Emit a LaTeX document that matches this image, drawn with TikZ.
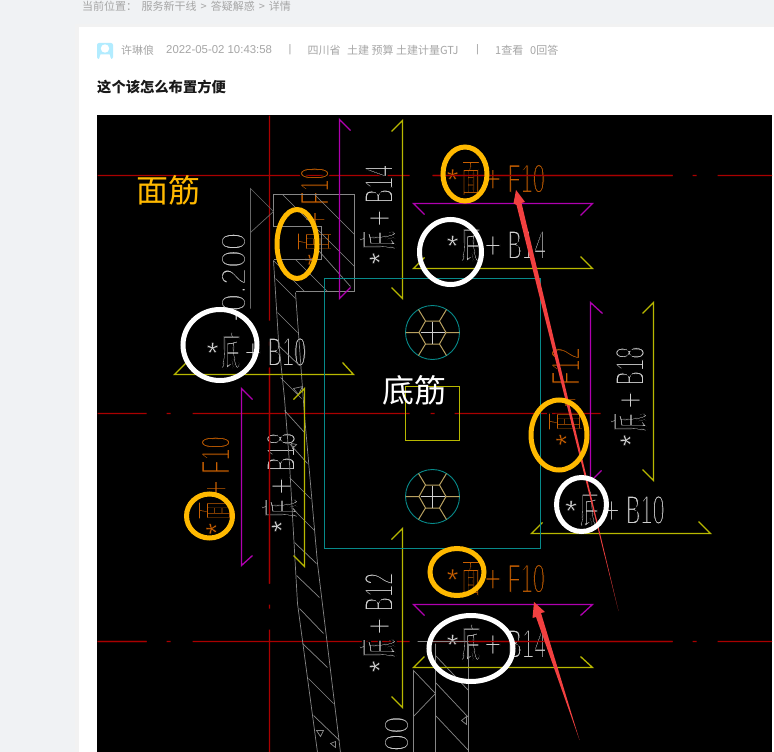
\documentclass[tikz,border=0pt]{standalone}
\usepackage{graphicx}
\usepackage{fontspec}
\setmainfont{Liberation Sans}
\newfontfamily\cjk{Noto Sans CJK SC}
\definecolor{pagebg}{HTML}{F0F2F4}
\definecolor{meta}{HTML}{A6A6A6}
\definecolor{cadred}{RGB}{170,0,0}
\definecolor{cadmag}{HTML}{B000B0}
\definecolor{cadyel}{HTML}{B8B800}
\definecolor{cadcyan}{HTML}{078A8A}
\definecolor{cadgrey}{HTML}{868686}
\definecolor{cadtext}{HTML}{CFCFCF}
\definecolor{cadorange}{HTML}{C85F00}
\definecolor{cadtan}{HTML}{B8A060}
\definecolor{markorange}{HTML}{FFB900}
\definecolor{markred}{HTML}{F24040}
% eroded (thin) CAD lettering: fill plus a black stroke on the black sheet
\newcommand{\thinon}{\special{pdf:code 2 Tr 0 0 0 RG 1.7 w}}
\newcommand{\thinoff}{\special{pdf:code 0 Tr}}
\newcommand{\cadlabel}[2]{\fontsize{41}{41}\selectfont
  \raisebox{3pt}{\fontsize{30}{30}\selectfont\special{pdf:code 2 Tr 0 0 0 RG .35 w}*\thinoff}\hspace{3pt}%
  \scalebox{.46}[1]{\thinon{\cjk #1}\thinoff}\hspace{4pt}%
  \scalebox{.72}[1]{\thinon +\thinoff}\hspace{6pt}%
  \scalebox{.53}[1]{\thinon #2\thinoff}}
\newcommand{\levellabel}[1]{\scalebox{.9}[1]{\fontsize{35}{35}\selectfont\thinon #1\thinoff}}
\tikzset{
  x=1pt,y=-1pt,
  cadg/.style={text=cadtext,inner sep=0pt},
  cado/.style={text=cadorange,inner sep=0pt},
  metatext/.style={text=meta,anchor=west,inner sep=0pt,font=\fontsize{11}{11}\selectfont},
  magline/.style={draw=cadmag,line width=1.3pt},
  yelline/.style={draw=cadyel,line width=1.3pt},
  cyanline/.style={draw=cadcyan,line width=1.3pt},
  wall/.style={draw=cadgrey,line width=.7pt},
  ring/.style={draw,line width=5pt,fill=none},
  bigword/.style={inner sep=0pt,font=\cjk\fontsize{32}{32}\selectfont},
  redarrow/.style={fill=markred,draw=none}
}
\newcommand{\boltmark}[2]{%
  \begin{scope}[shift={(#1,#2)}]
    \draw[cadcyan,line width=.9pt] (0,0) circle[radius=27];
    \draw[cadtan,line width=1pt] (-13.5,0)--(-7,-11.5)--(7,-11.5)--(13.5,0)--(7,11.5)--(-7,11.5)--cycle;
    \draw[cadtan,line width=1pt] (-13.5,0)--(-27,0) (13.5,0)--(27,0) (-7,-11.5)--(-14,-23) (7,-11.5)--(14,-23) (-7,11.5)--(-14,23) (7,11.5)--(14,23);
    \draw[cadtext,line width=.8pt] (-12,0)--(12,0) (0,-11)--(0,11);
  \end{scope}}
\begin{document}
\begin{tikzpicture}
\useasboundingbox (0,0) rectangle (774,752);
\fill[pagebg] (0,0) rectangle (774,752);
\fill[black!5] (75,24) rectangle (774,752);
\fill[white] (79,27) rectangle (774,752);
% header
\node[metatext] (crumb) at (82,6) {\cjk 当前位置：};
\node[metatext] (crumbb) at (141.5,6) {\cjk 服务新干线\hspace{4pt}>\hspace{4pt}答疑解惑\hspace{4pt}>\hspace{4pt}详情};
\fill[blue!25!cyan!30!white,rounded corners=2pt] (97,43) rectangle (113,59);
\fill[white] (105,48.5) circle[radius=4.2];
\fill[white] (99,59) -- (100.5,54.5) -- (109.5,54.5) -- (111,59) -- cycle;
\node[metatext] (user) at (121,50) {\cjk 许琳俍};
\node[metatext,font=\fontsize{11.4}{11.4}\selectfont] (time) at (166,50) {2022-05-02 10:43:58};
\node[metatext] (sepa) at (288.5,50) {|};
\node[metatext] (prov) at (307.5,50) {\cjk 四川省};
\node[metatext] (tags) at (347,50) {\cjk 土建 预算 土建计量GTJ};
\node[metatext] (sepb) at (476,50) {|};
\node[metatext] (views) at (495,50) {\cjk 1查看};
\node[metatext] (answers) at (530,50) {\cjk 0回答};
\node[anchor=west,inner sep=0pt,font=\cjk\bfseries\fontsize{14.3}{14.3}\selectfont,text=black!90] (title) at (97,87) {这个该怎么布置方便};
% CAD sheet
\fill[black] (97,115) rectangle (772,752);
\begin{scope}
\clip (97,115) rectangle (772,752);
\begin{scope}[shift={(.5,.5)}]
% axes as filled bars, since a hairline stroke loses its hue
\fill[cadred] (97,174.4) rectangle (409,175.6) (432,174.4) rectangle (672,175.6) (692,174.4) rectangle (696,175.6) (717,174.4) rectangle (772,175.6);
\fill[cadred] (97,412.4) rectangle (146,413.6) (166,412.4) rectangle (170,413.6) (192,412.4) rectangle (409,413.6) (430,412.4) rectangle (434,413.6) (454,412.4) rectangle (600,413.6);
\fill[cadred] (97,640.4) rectangle (146,641.6) (166,640.4) rectangle (170,641.6) (192,640.4) rectangle (409,641.6) (432,640.4) rectangle (672,641.6) (692,640.4) rectangle (696,641.6) (717,640.4) rectangle (772,641.6);
\fill[cadred] (268.4,115) rectangle (269.6,320) (268.4,341) rectangle (269.6,345) (268.4,367) rectangle (269.6,583) (268.4,604) rectangle (269.6,608) (268.4,629) rectangle (269.6,752);
% lettering
\node[cado,anchor=west] (tfa) at (446,178) {\cadlabel{面}{F10}};
\node[cadg,anchor=west] (tba) at (446,243) {\cadlabel{底}{B14}};
\node[cadg,anchor=west] (tbb) at (206,350) {\cadlabel{底}{B10}};
\node[cado,rotate=90] (tfb) at (314,216) {\cadlabel{面}{F10}};
\node[cadg,rotate=90] (tbc) at (377,214) {\cadlabel{底}{B14}};
\node[cado,rotate=90] (tfc) at (565,396) {\cadlabel{面}{F12}};
\node[cadg,rotate=90] (tbd) at (628,396) {\cadlabel{底}{B18}};
\node[cadg,anchor=west] (tbe) at (564.5,508) {\cadlabel{底}{B10}};
\node[cado,anchor=west] (tfd) at (446,578) {\cadlabel{面}{F10}};
\node[cadg,anchor=west] (tbf) at (446,642) {\cadlabel{底}{B14}};
\node[cado,rotate=90] (tfe) at (215,485) {\cadlabel{面}{F10}};
\node[cadg,rotate=90] (tbg) at (279,482) {\cadlabel{底}{B18}};
\node[cadg,rotate=90] (tbh) at (377,622) {\cadlabel{底}{B12}};
\node[cadg,rotate=90,anchor=east] (lvla) at (233,232) {\levellabel{-0.200}};
\node[cadg,rotate=90,anchor=west] (lvlb) at (396,751) {\levellabel{00}};
% redraw axis strips that lettering's black edge would cut
\fill[cadred] (432,174.4) rectangle (672,175.6) (97,640.4) rectangle (146,641.6) (432,640.4) rectangle (672,641.6) (268.4,367) rectangle (269.6,583);
% wall
\draw[wall] (273,226)--(273,194)--(354,194)--(354,291)--(295,291);
\draw[wall] (273,226)--(321,226)--(321,259)--(273,259);
\draw[wall] (282,194)--(354,266) (314,194)--(354,234) (273,260)--(304,291) (295,259)--(327,291) (318,250)--(350,286);
\draw[wall] (273,260) -- (278,340) -- (284,398) -- (289,463) -- (297,603) -- (317,752);
\draw[wall] (295,292) -- (304,415) -- (317,563) -- (340,752);
\draw[wall] (275,278)--(295,298) (277,312)--(297,332) (278,345)--(299,365) (280,377)--(301,398) (284,410)--(304,432) (289,443)--(307,463) (289,477)--(310,498) (292,508)--(314,530) (294,542)--(316,563) (296,575)--(319,597) (299,608)--(323,633) (302,643)--(327,667) (308,678)--(333,703) (313,715)--(339,740);
\draw[wall] (293,388)--(302,386)--(298,394)--cycle (316,730)--(323,730)--(320,736)--cycle (330,743)--(335,741)--(335,747)--cycle (291,443)--(296,444)--(292,448)--cycle;
\draw[black!60,line width=.7pt] (250,308)--(250,188)--(273,211)--(250,232);
\draw[wall] (413,752)--(413,670)--(435,693)--(413,716) (435,752)--(435,643) (468,752)--(468,643) (417,641)--(468,641);
\draw[wall] (435,655)--(468,690) (435,682)--(468,717) (435,715)--(468,750) (461,720)--(466,716)--(466,724)--cycle;
% magenta and yellow brackets
\draw[magline] (350,130)--(339,119)--(339,298)--(350,287);
\draw[yelline] (391,131)--(402,120)--(402,298)--(391,287);
\draw[magline] (424,214)--(413,203)--(592,203)--(580,215);
\draw[yelline] (424,257)--(413,268)--(592,268)--(580,256);
\draw[magline] (602,313)--(590,302)--(590,481)--(601,470);
\draw[yelline] (642,313)--(653,302)--(653,480)--(642,469);
\draw[yelline] (542,522)--(531,533)--(710,533)--(698,521);
\draw[magline] (424,615)--(413,604)--(592,604)--(580,615);
\draw[yelline] (424,656)--(413,667)--(592,667)--(580,656);
\draw[magline] (252,399)--(241,388)--(241,565)--(252,555);
\draw[yelline] (293,399)--(304,388)--(304,566)--(293,555);
\draw[yelline] (186,362)--(174,374)--(353,374)--(342,362);
\draw[yelline] (391,539)--(402,528)--(402,707)--(391,696);
% column
\draw[cyanline] (324,278) rectangle (540,548);
\draw[yelline] (405,386) rectangle (459,440);
\boltmark{432}{332}
\boltmark{432}{496}
\end{scope}
% red arrows
\fill[redarrow] (516,190)--(525,202)--(521.5,203)--(618.5,611)--(516.5,205)--(513.5,203.5)--cycle;
\fill[redarrow] (534,602)--(545,612)--(541,613)--(579.5,740)--(536,617)--(532.5,618)--cycle;
% rings
\draw[ring,markorange] (465,174) ellipse[x radius=22,y radius=27];
\draw[ring,markorange] (297,244) ellipse[x radius=20,y radius=34.5];
\draw[ring,markorange] (559,435) ellipse[x radius=28,y radius=35];
\draw[ring,markorange] (209.5,516) ellipse[x radius=23,y radius=22];
\draw[ring,markorange] (457,572) ellipse[x radius=27,y radius=23.5];
\draw[ring,white] (450.5,252) ellipse[x radius=31,y radius=32.5];
\draw[ring,white] (220,345) ellipse[x radius=37,y radius=35.5];
\draw[ring,white] (581.5,504.5) ellipse[x radius=25,y radius=27];
\draw[ring,white] (471,648.5) ellipse[x radius=42,y radius=33];
\node[bigword,text=markorange] (mian) at (168.5,190) {面筋};
\node[bigword,text=white] (di) at (414.5,390) {底筋};
\end{scope}
\end{tikzpicture}
\end{document}
